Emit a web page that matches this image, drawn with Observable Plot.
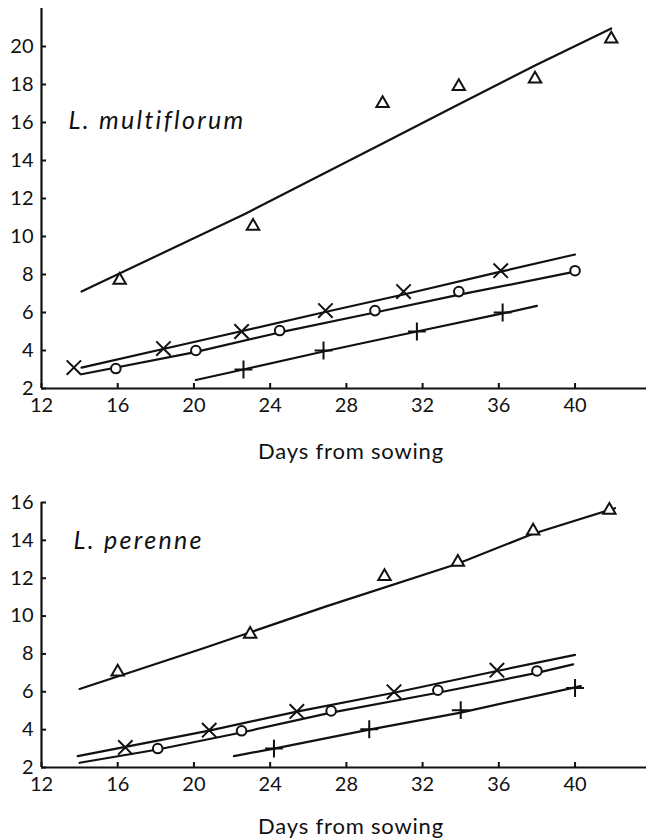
<!DOCTYPE html>
<html><head><meta charset="utf-8">
<script src="https://cdn.jsdelivr.net/npm/d3@7"></script>
<script src="https://cdn.jsdelivr.net/npm/@observablehq/plot@0.6"></script>
<style>
body{margin:0;background:#fff}
#chart{width:646px}
#chart svg{display:block}
</style>
</head><body><div id="chart"></div>
<script>
// ---- shared axis ticks ----
const xTicks = [12, 16, 20, 24, 28, 32, 36, 40];
const xLabel = "Days from sowing";

// ---- L. multiflorum ----
const mfTitle = "L. multiflorum";
const mfYTicks = [2, 4, 6, 8, 10, 12, 14, 16, 18, 20];
const mfTriDays = [16.1, 23.1, 29.9, 33.9, 37.9, 41.9];
const mfTriVals = [7.7, 10.55, 17.0, 17.9, 18.3, 20.4];
const mfCrossDays = [13.7, 18.4, 22.5, 26.9, 31.0, 36.1];
const mfCrossVals = [3.1, 4.1, 5.0, 6.1, 7.1, 8.2];
const mfCircDays = [15.9, 20.1, 24.5, 29.5, 33.9, 40.0];
const mfCircVals = [3.05, 4.0, 5.05, 6.1, 7.1, 8.2];
const mfPlusDays = [22.6, 26.8, 31.7, 36.2];
const mfPlusVals = [3.0, 4.0, 5.0, 6.0];
// fitted lines
const mfTriFitDays = [14.1, 22.7, 29.9, 33.6, 37.9, 41.9];
const mfTriFitVals = [7.1, 11.2, 14.9, 16.8, 19.0, 20.95];
const mfCrossFitDays = [14.1, 20.0, 27.0, 31.0, 36.1, 40.0];
const mfCrossFitVals = [3.1, 4.45, 6.05, 6.95, 8.15, 9.05];
const mfCircFitDays = [14.1, 20.0, 24.5, 29.5, 34.0, 40.0];
const mfCircFitVals = [2.75, 3.9, 4.95, 6.0, 6.95, 8.15];
const mfPlusFitDays = [20.1, 22.6, 26.8, 31.7, 36.2, 38.0];
const mfPlusFitVals = [2.45, 3.0, 3.95, 5.0, 5.95, 6.35];

// ---- L. perenne ----
const lpTitle = "L. perenne";
const lpYTicks = [2, 4, 6, 8, 10, 12, 14, 16];
const lpTriDays = [16.0, 22.95, 30.0, 33.85, 37.8, 41.8];
const lpTriVals = [7.05, 9.05, 12.1, 12.85, 14.5, 15.6];
const lpCrossDays = [16.4, 20.8, 25.4, 30.5, 35.9];
const lpCrossVals = [3.06, 3.97, 4.96, 6.0, 7.14];
const lpCircDays = [18.1, 22.5, 27.2, 32.8, 38.0];
const lpCircVals = [3.0, 3.94, 4.99, 6.08, 7.1];
const lpPlusDays = [24.2, 29.2, 34.0, 40.0];
const lpPlusVals = [3.0, 4.02, 5.03, 6.2];
// fitted lines
const lpTriFitDays = [14.0, 20.5, 26.9, 33.8, 37.8, 42.1];
const lpTriFitVals = [6.15, 8.3, 10.5, 12.75, 14.35, 15.7];
const lpCrossFitDays = [13.9, 20.8, 25.4, 30.5, 35.9, 40.0];
const lpCrossFitVals = [2.6, 3.95, 4.95, 5.95, 7.1, 7.95];
const lpCircFitDays = [14.0, 18.1, 22.5, 27.2, 32.8, 38.0, 39.9];
const lpCircFitVals = [2.25, 2.95, 3.85, 4.9, 5.95, 7.0, 7.45];
const lpPlusFitDays = [22.1, 24.2, 29.2, 34.0, 40.3];
const lpPlusFitVals = [2.6, 3.0, 4.0, 4.9, 6.3];

const pts = (xs, ys) => xs.map((x, i) => ({x, y: ys[i]}));

function panel(o) {
  const ink = "#111";
  const W = 646, ML = 41, MR = 0;
  const xDomain = [12, 43.75];
  const tickPx = 5;
  // convert the pixel tick length into data units via the scales' resolution
  const xUnit = tickPx * (xDomain[1] - xDomain[0]) / (W - ML - MR);
  const yUnit = tickPx * (o.yDomain[1] - o.yDomain[0]) / (o.height - o.mt - o.mb);
  const lines = o.fits.map(f => Plot.line(pts(f[0], f[1]), {x: "x", y: "y", stroke: ink, strokeWidth: 2.2}));
  const sym = [
    {s: "triangle", r: 4.6, fill: "white"},
    {s: "times", r: 6.6, fill: "none"},
    {s: "circle", r: 4.8, fill: "white"},
    {s: "plus", r: 5.8, fill: "none"}
  ];
  const dots = o.series.map((s, i) => Plot.dot(pts(s[0], s[1]), {x: "x", y: "y", symbol: sym[i].s, r: sym[i].r, stroke: ink, fill: sym[i].fill, strokeWidth: 2}));
  const y0 = o.yDomain[0];
  const x0 = xDomain[0];
  const svg = Plot.plot({
    width: W,
    height: o.height,
    marginTop: o.mt,
    marginBottom: o.mb,
    marginLeft: ML,
    marginRight: MR,
    x: {domain: xDomain},
    y: {domain: o.yDomain},
    style: {fontFamily: "Lato, sans-serif", fontSize: "20px", color: ink, background: "white"},
    marks: [
      Plot.axisY({ticks: o.yTicks, tickSize: 0, tickPadding: 8, label: null}),
      Plot.axisX({ticks: xTicks, tickSize: 0, tickPadding: 9, label: null}),
      // inward tick marks
      Plot.ruleX(xTicks, {x: d => d, y1: y0, y2: y0 + yUnit, stroke: ink, strokeWidth: 2}),
      Plot.ruleY(o.yTicks, {y: d => d, x1: x0, x2: x0 + xUnit, stroke: ink, strokeWidth: 2}),
      Plot.ruleY([y0], {stroke: ink, strokeWidth: 2.2}),
      Plot.ruleX([x0], {stroke: ink, strokeWidth: 2.2}),
      ...lines,
      ...dots,
      Plot.text([o.title], {frameAnchor: "top-left", dx: o.tdx, dy: o.tdy, lineAnchor: "bottom", textAnchor: "start", fontStyle: "italic", fontSize: 25, fill: ink}),
      Plot.text([xLabel], {frameAnchor: "bottom", dx: 7, dy: o.ldy, lineAnchor: "bottom", fontSize: 22, fill: ink})
    ]
  });
  d3.select(svg).selectAll("text").each(function() {
    const t = this.textContent;
    if (t === o.title) this.style.letterSpacing = "2.3px";
    else if (t === xLabel) this.style.letterSpacing = "0.8px";
  });
  return svg;
}

const chart = document.getElementById("chart");
chart.appendChild(panel({
  height: 470, mt: 8, mb: 82, yDomain: [2, 22], yTicks: mfYTicks, title: mfTitle,
  tdx: 27, tdy: 120, ldy: 70,
  series: [[mfTriDays, mfTriVals], [mfCrossDays, mfCrossVals], [mfCircDays, mfCircVals], [mfPlusDays, mfPlusVals]],
  fits: [[mfTriFitDays, mfTriFitVals], [mfCrossFitDays, mfCrossFitVals], [mfCircFitDays, mfCircFitVals], [mfPlusFitDays, mfPlusFitVals]]
}));
chart.appendChild(panel({
  height: 370, mt: 32, mb: 73, yDomain: [2, 16], yTicks: lpYTicks, title: lpTitle,
  tdx: 32, tdy: 46, ldy: 66,
  series: [[lpTriDays, lpTriVals], [lpCrossDays, lpCrossVals], [lpCircDays, lpCircVals], [lpPlusDays, lpPlusVals]],
  fits: [[lpTriFitDays, lpTriFitVals], [lpCrossFitDays, lpCrossFitVals], [lpCircFitDays, lpCircFitVals], [lpPlusFitDays, lpPlusFitVals]]
}));
</script>
</body></html>
